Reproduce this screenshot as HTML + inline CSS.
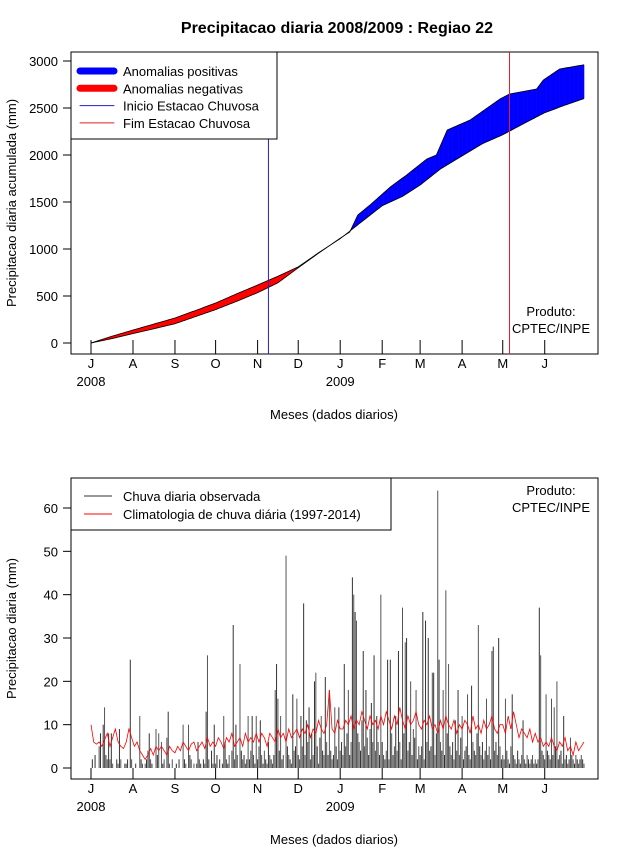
<!DOCTYPE html>
<html><head><meta charset="utf-8">
<style>
body{margin:0;background:#fff;}
svg{display:block;font-family:"Liberation Sans",Arial,sans-serif;}
</style></head>
<body>
<svg id="c" width="640" height="850" viewBox="0 0 640 850">
<rect width="640" height="850" fill="#fff"/>
<text x="337" y="33" text-anchor="middle" font-size="16" font-weight="bold">Precipitacao diaria 2008/2009 : Regiao 22</text>
<g id="topPanel"></g>
<g id="botPanel"></g>
</svg>
<script>
// ---- data ----
const monthLabels = ["J","A","S","O","N","D","J","F","M","A","M","J"];
const monthStartDays = [0,31,62,92,123,153,184,215,243,274,304,335];
const yearLabels = ["2008","2009"];
const yearDays = [0,184];
const topTicks = [0,500,1000,1500,2000,2500,3000];
const botTicks = [0,10,20,30,40,50,60];
const climoCumDays = [0,15,31,46,62,77,92,107,123,138,153,168,184,199,215,230,243,258,274,289,304,319,335,350,364];
const climoCum = [0,70,138,200,266,345,425,520,617,710,810,960,1110,1280,1460,1560,1680,1851,1990,2120,2215,2330,2450,2530,2600];
const obsCumDays = [0,15,31,46,62,77,92,107,123,138,153,168,184,191,197,206,221,233,248,255,263,280,302,309,329,334,346,364];
const obsCum = [0,45,100,150,205,280,355,440,535,640,800,955,1115,1180,1362,1468,1660,1787,1958,2000,2266,2373,2596,2649,2702,2798,2915,2960];
const rainStartDay = 131;
const rainEndDay = 309;
const rainJul=[0,2,0,3,0,0,5,8,0,10,14,3,2,8,2,8,1,0,0,2,1,9,2,0,0,1,1,2,0,25,2];
const rainAug=[0,0,1,0,0,12,2,1,0,1,2,4,8,2,1,0,0,9,3,8,0,6,1,2,0,7,13,1,0,2,0];
const rainSep=[0,1,0,2,0,0,10,2,1,0,10,3,2,0,1,0,1,6,2,1,0,2,1,13,26,2,0,4,1,10];
const rainOct=[1,3,0,2,0,1,12,6,2,1,3,0,4,33,2,10,3,0,24,4,2,3,1,2,12,2,4,12,3,1,12];
const rainNov=[2,5,11,3,1,4,2,1,6,3,2,1,3,18,24,16,4,12,2,3,0,49,5,3,2,1,17,4,5,16];
const rainDec=[3,2,12,5,38,3,11,6,14,2,8,3,20,22,5,1,7,12,4,3,21,6,3,18,4,2,3,14,5,2,14];
const rainJan=[4,6,3,24,5,8,18,3,6,44,40,36,34,8,6,4,11,27,5,18,7,3,9,15,6,26,4,12,6,3,40];
const rainFeb=[6,3,2,4,25,2,25,8,3,5,12,4,27,6,2,37,8,29,30,4,6,20,3,9,7,18,2,5];
const rainMar=[3,5,36,2,34,6,30,4,5,22,22,3,8,64,25,6,4,18,3,41,8,24,5,3,6,2,11,4,18,3,7];
const rainApr=[12,2,4,5,17,3,2,19,6,4,3,8,33,5,3,6,2,4,16,3,5,2,27,28,4,6,3,30,5,2];
const rainMay=[3,2,16,4,2,1,5,17,3,2,1,4,2,1,3,11,2,1,3,2,1,2,3,1,2,1,2,37,26,4,3];
const rainJun=[2,17,4,3,2,16,3,14,5,20,2,3,4,1,12,2,3,1,2,7,3,2,1,3,2,1,2,3,2,1];
// climatology, one value every 2 days
const climo2 = [10,6,5.5,6,5,6.5,8,5,7,9,6,5,4.5,6,9,7,
5,6,4,3,2,3,4.5,3,5,4,5,4,3,5,4,
3.5,5,4,6,5,4,5.5,6,4,5,6,4.5,7,5,6,
5,7,6,4.5,7,6,8,5,6,7,5,8,6,7,6,8,
6,8,7,5,8,7,6,9,7,8,6,9,7,8,9,
7,9,8,10,7,9,8,11,9,8,10,18,9,8,11,9,
9,11,10,12,9,11,10,13,11,9,12,10,11,9,12,
10,13,11,9,12,10,14,11,9,12,10,11,13,10,
9,11,10,12,9,10,8,11,9,12,10,9,11,8,10,
9,11,10,8,12,9,10,8,11,9,10,12,9,8,10,
10,8,12,9,13,10,7,9,8,7,9,6,8,6,7,5,
6,5,7,5,4,6,5,7,4,5,3,6,4,5,6];
const rain = [].concat(rainJul,rainAug,rainSep,rainOct,rainNov,rainDec,rainJan,rainFeb,rainMar,rainApr,rainMay,rainJun);

// ---- helpers ----
const NS="http://www.w3.org/2000/svg";
function mk(parent,tag,attrs,txt){const e=document.createElementNS(NS,tag);for(const k in attrs)e.setAttribute(k,attrs[k]);if(txt!==undefined)e.textContent=txt;parent.appendChild(e);return e;}
const xDay = d => 91 + d*(584-91)/364;
const yTop = v => 343 - v*(343-61)/3000;
const yBot = v => 768 - v*(768-508)/60;
function interp(days,vals,d){for(let i=1;i<days.length;i++){if(d<=days[i]){const t=(d-days[i-1])/(days[i]-days[i-1]);return vals[i-1]+t*(vals[i]-vals[i-1]);}}return vals[vals.length-1];}

function axes(g,y0,y1,ticks,yf,yLabel,tickLen){
  const box=mk(g,'rect',{x:71,y:y0,width:527,height:y1-y0,fill:'none',stroke:'#000','stroke-width':1});
  
  ticks.forEach(t=>{
    mk(g,'line',{x1:63,x2:71,y1:yf(t),y2:yf(t),stroke:'#000'});
    const tl=mk(g,'text',{x:58,y:yf(t)+5,'text-anchor':'end','font-size':13},String(t));
    
  });
  const yl=mk(g,'text',{x:0,y:0,transform:`translate(16,${(y0+y1)/2}) rotate(-90)`,'text-anchor':'middle','font-size':13},yLabel);
  
  monthStartDays.forEach((d,i)=>{
    mk(g,'line',{x1:xDay(d),x2:xDay(d),y1:y1,y2:y1-tickLen,stroke:'#000'});
    const ml=mk(g,'text',{x:xDay(d),y:y1+14,'text-anchor':'middle','font-size':13},monthLabels[i]);
    
  });
  yearDays.forEach((d,i)=>{
    const yl2=mk(g,'text',{x:xDay(d),y:y1+32,'text-anchor':'middle','font-size':13},yearLabels[i]);
    
  });
  const xt=mk(g,'text',{x:334,y:y1+65,'text-anchor':'middle','font-size':13},'Meses (dados diarios)');
  
}
function product(g,y){
  const p1=mk(g,'text',{x:551,y:y,'text-anchor':'middle','font-size':13},'Produto:');
  
  const p2=mk(g,'text',{x:551,y:y+17,'text-anchor':'middle','font-size':13},'CPTEC/INPE');
  
}

// ---- top panel ----
const topG=document.getElementById('topPanel');
axes(topG,52,354,topTicks,yTop,'Precipitacao diaria acumulada (mm)',14);
const nDays=364;
for(let d=0;d<nDays;d++){
  const o0=interp(obsCumDays,obsCum,d),o1=interp(obsCumDays,obsCum,d+1);
  const c0=interp(climoCumDays,climoCum,d),c1=interp(climoCumDays,climoCum,d+1);
  const col=(o0+o1)>=(c0+c1)?'#0000ff':'#ff0000';
  const q=mk(topG,'polygon',{points:`${xDay(d)},${yTop(o0)} ${xDay(d+1)+0.3},${yTop(o1)} ${xDay(d+1)+0.3},${yTop(c1)} ${xDay(d)},${yTop(c0)}`,fill:col,stroke:'none'});
  
  
}
let po='',pc='';
for(let d=0;d<=nDays;d++){po+=`${xDay(d)},${yTop(interp(obsCumDays,obsCum,d))} `;pc+=`${xDay(d)},${yTop(interp(climoCumDays,climoCum,d))} `;}
const lo=mk(topG,'polyline',{points:po,fill:'none',stroke:'#000','stroke-width':0.8});

const lc=mk(topG,'polyline',{points:pc,fill:'none',stroke:'#000','stroke-width':0.8});

const vs=mk(topG,'line',{x1:xDay(rainStartDay),x2:xDay(rainStartDay),y1:52,y2:354,stroke:'#2020c0','stroke-width':1});

const ve=mk(topG,'line',{x1:xDay(rainEndDay),x2:xDay(rainEndDay),y1:52,y2:354,stroke:'#e02020','stroke-width':1});

// legend top
const lg=mk(topG,'g',{});

mk(lg,'rect',{x:71,y:52,width:206,height:87,fill:'#fff',stroke:'#000'});
const entries=[['#0000ff',7,'Anomalias positivas'],['#ff0000',7,'Anomalias negativas'],['#2020c0',1,'Inicio Estacao Chuvosa'],['#e02020',1,'Fim Estacao Chuvosa']];
entries.forEach((e,i)=>{
  const y=71+i*17.3;
  const g=mk(lg,'g',{});
  
  mk(g,'line',{x1:80,x2:114,y1:y,y2:y,stroke:e[0],'stroke-width':e[1],'stroke-linecap':'round'});
  mk(g,'text',{x:123,y:y+5,'font-size':13},e[2]);
});
product(topG,316);

// ---- bottom panel ----
const botG=document.getElementById('botPanel');
axes(botG,478,779,botTicks,yBot,'Precipitacao diaria (mm)',11);
rain.forEach((v,d)=>{
  if(v<=0)return;
  const b=mk(botG,'line',{x1:xDay(d),x2:xDay(d),y1:yBot(0),y2:yBot(v),stroke:d%2?'#333':'#555','stroke-width':1});
  
});
let pcl='';
climo2.forEach((v,i)=>{pcl+=`${xDay(i*2)},${yBot(v)} `;});
const cl=mk(botG,'polyline',{points:pcl,fill:'none',stroke:'#ff0000','stroke-width':0.8});

const lg2=mk(botG,'g',{});

mk(lg2,'rect',{x:71,y:478,width:320,height:52,fill:'#fff',stroke:'#000'});
[['#333','Chuva diaria observada'],['#ff0000','Climatologia de chuva diária (1997-2014)']].forEach((e,i)=>{
  const y=496+i*18;
  const g=mk(lg2,'g',{});
  
  mk(g,'line',{x1:84,x2:112,y1:y,y2:y,stroke:e[0],'stroke-width':1});
  mk(g,'text',{x:123,y:y+5,'font-size':13},e[1]);
});
product(botG,495);
</script>
</body></html>
